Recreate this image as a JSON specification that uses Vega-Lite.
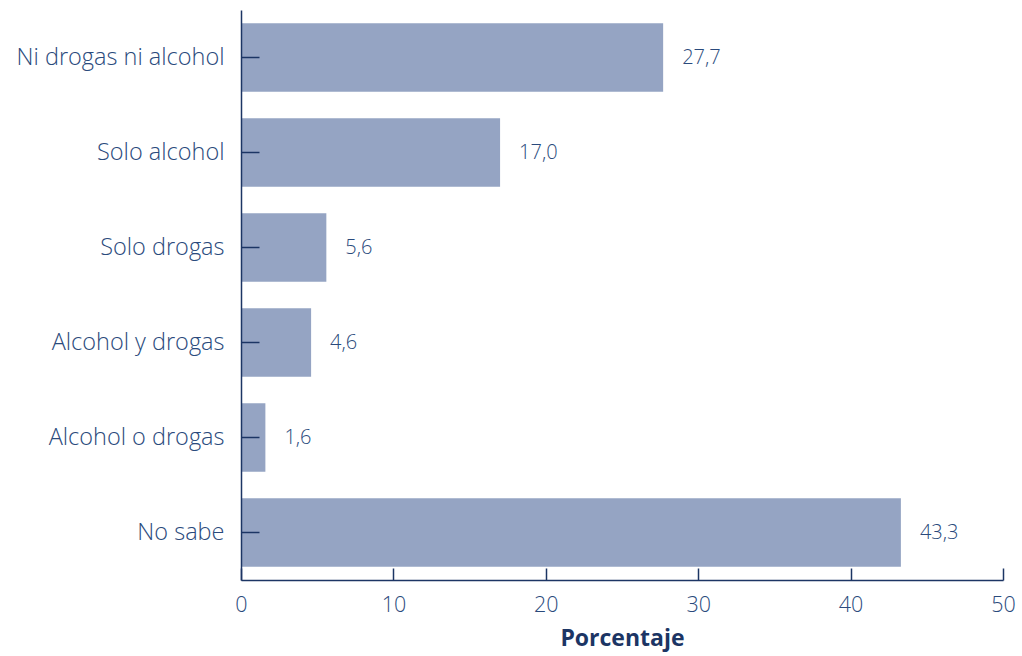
{
  "$schema": "https://vega.github.io/schema/vega-lite/v6.json",
  "width": 762,
  "height": 570,
  "autosize": "none",
  "padding": {"left": 241, "top": 10, "right": 19, "bottom": 76},
  "background": "white",
  "config": {
    "view": {"stroke": null},
    "locale": {"number": {"decimal": ",", "thousands": ".", "grouping": [3], "currency": ["", ""]}},
    "font": "Open Sans",
    "axis": {"grid": false, "domainColor": "#1c3564", "tickColor": "#1c3564", "domainWidth": 1.5, "tickWidth": 1.5, "labelColor": "#2a4a7c", "titleColor": "#1c3564", "labelFont": "Open Sans", "titleFont": "Open Sans"}
  },
  "data": {"values": [
    {"categoria": "Ni drogas ni alcohol", "porcentaje": 27.7},
    {"categoria": "Solo alcohol", "porcentaje": 17.0},
    {"categoria": "Solo drogas", "porcentaje": 5.6},
    {"categoria": "Alcohol y drogas", "porcentaje": 4.6},
    {"categoria": "Alcohol o drogas", "porcentaje": 1.6},
    {"categoria": "No sabe", "porcentaje": 43.3}
  ]},
  "encoding": {
    "y": {"field": "categoria", "type": "nominal", "sort": null,
      "scale": {"paddingInner": 0.28, "paddingOuter": 0.14},
      "axis": {"title": null, "zindex": 2, "tickSize": -18, "labelPadding": 35, "labelFontSize": 23.5, "labelFontWeight": 300, "labelLimit": 300}},
    "x": {"field": "porcentaje", "type": "quantitative",
      "scale": {"domain": [0, 50], "nice": false},
      "axis": {"title": "Porcentaje", "zindex": 2, "titleFontSize": 23, "titleFontWeight": "bold", "titlePadding": 12, "values": [0, 10, 20, 30, 40, 50], "tickSize": -12, "labelPadding": 26, "labelFontSize": 21.5, "labelFontWeight": 300, "labelFlush": false}}
  },
  "layer": [
    {"mark": {"type": "bar", "color": "#95a4c3"}},
    {"mark": {"type": "text", "align": "left", "baseline": "middle", "dx": 19, "fontSize": 20, "fontWeight": 300, "color": "#2a4a7c"},
      "encoding": {"text": {"field": "porcentaje", "type": "quantitative", "format": ".1f"}}}
  ]
}
